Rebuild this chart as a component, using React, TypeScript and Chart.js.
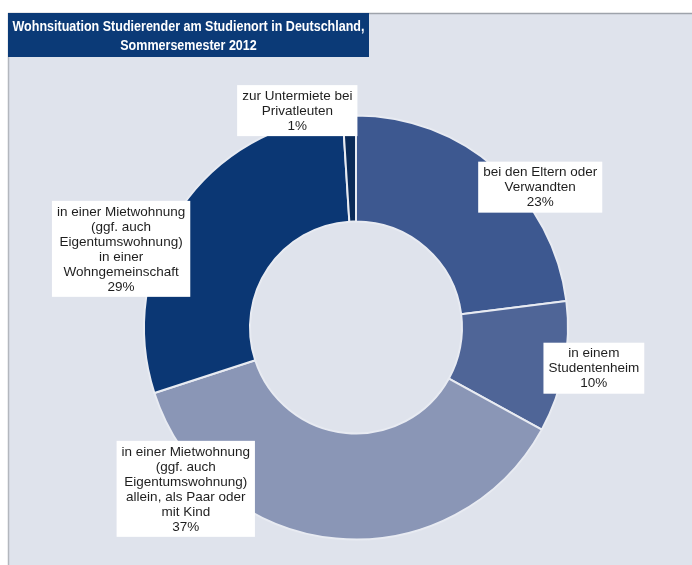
import React, { useEffect, useRef } from "react";
import { Chart, registerables } from "chart.js";

Chart.register(...registerables);

// ---- data ----
const titleLines = [
  "Wohnsituation Studierender am Studienort in Deutschland,",
  "Sommersemester 2012",
];
const categories: string[][] = [
  ["bei den Eltern oder", "Verwandten"],
  ["in einem", "Studentenheim"],
  ["in einer Mietwohnung", "(ggf. auch", "Eigentumswohnung)", "allein, als Paar oder", "mit Kind"],
  ["in einer Mietwohnung", "(ggf. auch", "Eigentumswohnung)", "in einer", "Wohngemeinschaft"],
  ["zur Untermiete bei", "Privatleuten"],
];
const values = [23, 10, 37, 29, 1];
const sliceColors = ["#3d5890", "#4f6597", "#8a96b6", "#0b3774", "#0a2a57"];
// label box centres relative to the doughnut centre, in units of the outer radius
const labelOffsets: [number, number][] = [
  [0.869, -0.662],
  [1.122, 0.192],
  [-0.803, 0.761],
  [-1.108, -0.371],
  [-0.277, -1.023],
];

const W = 692;
const H = 565;

const backgroundPlugin = {
  id: "bgPanel",
  beforeDraw(chart: any) {
    const ctx = chart.ctx;
    ctx.save();
    ctx.fillStyle = "#ffffff";
    ctx.fillRect(0, 0, W, H);
    ctx.fillStyle = "#dfe3ec";
    ctx.fillRect(8, 13, W - 8, H - 13);
    ctx.strokeStyle = "#9ea3ab";
    ctx.lineWidth = 1.5;
    ctx.beginPath();
    ctx.moveTo(8, 13.5);
    ctx.lineTo(W, 13.5);
    ctx.stroke();
    ctx.strokeStyle = "#b3b7be";
    ctx.beginPath();
    ctx.moveTo(8.5, 13);
    ctx.lineTo(8.5, H);
    ctx.stroke();
    // title box
    ctx.fillStyle = "#0b3a77";
    ctx.fillRect(8, 13, 361, 44);
    ctx.fillStyle = "#ffffff";
    ctx.font = "bold 15.5px 'Liberation Sans', Arial, sans-serif";
    ctx.textAlign = "center";
    ctx.textBaseline = "middle";
    const natural = ctx.measureText(titleLines[0]).width;
    const f = Math.min(1, 352 / natural);
    ctx.translate(188.5, 0);
    ctx.scale(f, 1);
    ctx.fillText(titleLines[0], 0, 27);
    ctx.fillText(titleLines[1], 0, 46);
    ctx.restore();
  },
};

const labelPlugin = {
  id: "boxLabels",
  afterDatasetsDraw(chart: any) {
    const ctx = chart.ctx;
    const meta = chart.getDatasetMeta(0);
    ctx.save();
    ctx.font = "13.5px 'Liberation Sans', Arial, sans-serif";
    ctx.textAlign = "center";
    ctx.textBaseline = "middle";
    const lh = 15;
    meta.data.forEach((arc: any, i: number) => {
      const { x, y, outerRadius } = arc.getProps(["x", "y", "outerRadius"], true);
      const lines = [...categories[i], values[i] + "%"];
      const tw = Math.max(...lines.map((l) => ctx.measureText(l).width));
      const bw = tw + 10;
      const bh = lines.length * lh + 6;
      const cx = x + labelOffsets[i][0] * outerRadius;
      const cy = y + labelOffsets[i][1] * outerRadius;
      ctx.fillStyle = "#ffffff";
      ctx.fillRect(cx - bw / 2, cy - bh / 2, bw, bh);
      ctx.fillStyle = "#1e1e1e";
      lines.forEach((l, k) => {
        ctx.fillText(l, cx, cy - bh / 2 + 3 + lh * k + lh / 2 + 0.5);
      });
    });
    ctx.restore();
  },
};

export default function App() {
  const ref = useRef<HTMLCanvasElement | null>(null);
  useEffect(() => {
    if (!ref.current) return;
    const chart = new Chart(ref.current, {
      type: "doughnut",
      data: {
        labels: categories.map((c) => c.join(" ")),
        datasets: [
          {
            data: values,
            backgroundColor: sliceColors,
            borderColor: "#e8ebf2",
            borderWidth: 2,
          },
        ],
      },
      options: {
        responsive: false,
        animation: false,
        cutout: "50%",
        layout: { padding: { top: 114, bottom: 24, left: 143, right: 123 } },
        plugins: {
          legend: { display: false },
          tooltip: { enabled: false },
          title: { display: false },
        },
      },
      plugins: [backgroundPlugin, labelPlugin],
    });
    return () => chart.destroy();
  }, []);
  return (
    <div style={{ position: "fixed", left: 0, top: 0, width: W, height: H }}>
      <canvas ref={ref} width={W} height={H} style={{ width: W, height: H, display: "block" }} />
    </div>
  );
}
